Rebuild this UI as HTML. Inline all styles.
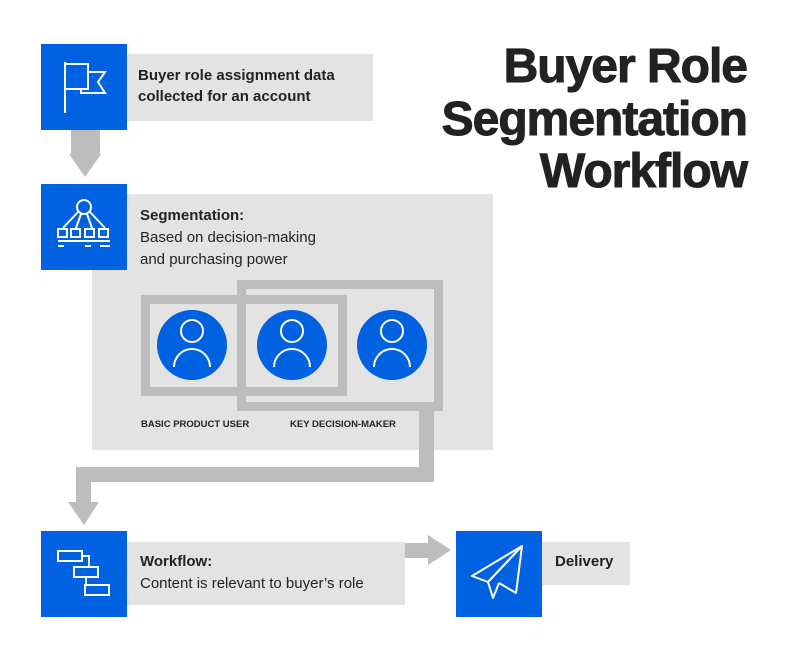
<!DOCTYPE html>
<html><head><meta charset="utf-8"><style>
html,body{margin:0;padding:0;background:#fff;}
svg{display:block;}
text{font-family:"Liberation Sans",Arial,sans-serif;fill:#222;}
</style></head><body>
<svg width="800" height="656" viewBox="0 0 800 656" xmlns="http://www.w3.org/2000/svg">
<!-- title -->
<g font-weight="bold" font-size="48" text-anchor="end" letter-spacing="-1" stroke="#222" stroke-width="1">
<text x="747" y="82">Buyer Role</text>
<text x="747" y="135">Segmentation</text>
<text x="747" y="187">Workflow</text>
</g>

<!-- step 1 -->
<rect x="127" y="54" width="246" height="67" fill="#e3e3e3"/>
<rect x="41" y="44" width="86" height="86" fill="#0062e0"/>
<g stroke="#fff" stroke-width="2" fill="none">
<line x1="65" y1="62" x2="65" y2="113"/>
<polyline points="65,64 88,64 88,89 65,89"/>
<polyline points="88,72 105,72 98,82 105,93 81,93 81,89"/>
</g>
<text x="138" y="80" font-size="15" font-weight="bold">Buyer role assignment data</text>
<text x="138" y="101" font-size="15" font-weight="bold">collected for an account</text>

<!-- arrow 1 -->
<rect x="71" y="130" width="29" height="25" fill="#bdbdbd"/>
<polygon points="69,154 101,154 85,177" fill="#bdbdbd"/>

<!-- step 2 -->
<rect x="92" y="194" width="401" height="256" fill="#e3e3e3"/>
<rect x="41" y="184" width="86" height="86" fill="#0062e0"/>
<g stroke="#fff" stroke-width="2" fill="none">
<circle cx="84" cy="207" r="7"/>
<line x1="78" y1="212" x2="63" y2="228"/>
<line x1="81" y1="214" x2="76" y2="228"/>
<line x1="87" y1="214" x2="92" y2="228"/>
<line x1="90" y1="212" x2="105" y2="228"/>
<rect x="58" y="229" width="9" height="8"/>
<rect x="71" y="229" width="9" height="8"/>
<rect x="85" y="229" width="9" height="8"/>
<rect x="99" y="229" width="9" height="8"/>
<line x1="58" y1="241" x2="110" y2="241"/>
<line x1="58" y1="246" x2="64" y2="246"/>
<line x1="85" y1="246" x2="91" y2="246"/>
<line x1="100" y1="246" x2="110" y2="246"/>
</g>
<text x="140" y="220" font-size="15" font-weight="bold">Segmentation:</text>
<text x="140" y="242" font-size="15">Based on decision-making</text>
<text x="140" y="264" font-size="15">and purchasing power</text>

<g fill="none" stroke="#bdbdbd" stroke-width="9">
<rect x="145.5" y="299.5" width="197" height="92"/>
<rect x="241.5" y="284.5" width="197" height="122"/>
</g>
<g>
<circle cx="192" cy="345" r="35" fill="#0062e0"/>
<circle cx="292" cy="345" r="35" fill="#0062e0"/>
<circle cx="392" cy="345" r="35" fill="#0062e0"/>
</g>
<g stroke="#fff" stroke-width="2" fill="none">
<circle cx="192" cy="331" r="11"/><path d="M174,367 a18,18 0 0 1 36,0"/>
<circle cx="292" cy="331" r="11"/><path d="M274,367 a18,18 0 0 1 36,0"/>
<circle cx="392" cy="331" r="11"/><path d="M374,367 a18,18 0 0 1 36,0"/>
</g>
<text x="141" y="427" font-size="9.5" font-weight="bold">BASIC PRODUCT USER</text>
<text x="290" y="427" font-size="9.5" font-weight="bold">KEY DECISION-MAKER</text>

<!-- connector -->
<g fill="#bdbdbd">
<rect x="419" y="411" width="15" height="71"/>
<rect x="76" y="467" width="358" height="15"/>
<rect x="76" y="467" width="15" height="37"/>
<polygon points="68,502 99,502 84,525"/>
</g>

<!-- step 3 -->
<rect x="127" y="542" width="278" height="63" fill="#e3e3e3"/>
<rect x="41" y="531" width="86" height="86" fill="#0062e0"/>
<g stroke="#fff" stroke-width="2" fill="none">
<rect x="58" y="551" width="24" height="10"/>
<rect x="74" y="567" width="24" height="10"/>
<rect x="85" y="585" width="24" height="10"/>
<polyline points="82,556 89,556 89,567"/>
<polyline points="86,577 86,585"/>
</g>
<text x="140" y="566" font-size="15" font-weight="bold">Workflow:</text>
<text x="140" y="588" font-size="15">Content is relevant to buyer’s role</text>

<!-- arrow right -->
<rect x="405" y="543" width="24" height="15" fill="#bdbdbd"/>
<polygon points="428,535 428,565 451,550" fill="#bdbdbd"/>

<!-- step 4 -->
<rect x="542" y="542" width="88" height="43" fill="#e3e3e3"/>
<rect x="456" y="531" width="86" height="86" fill="#0062e0"/>
<g stroke="#fff" stroke-width="2" fill="none" stroke-linejoin="round">
<polygon points="522,546 472,576 488,582"/>
<polyline points="522,546 488,582 493,598 499,583"/>
<polyline points="522,546 516,593 499,583"/>
</g>
<text x="555" y="566" font-size="15" font-weight="bold">Delivery</text>
</svg>
</body></html>
